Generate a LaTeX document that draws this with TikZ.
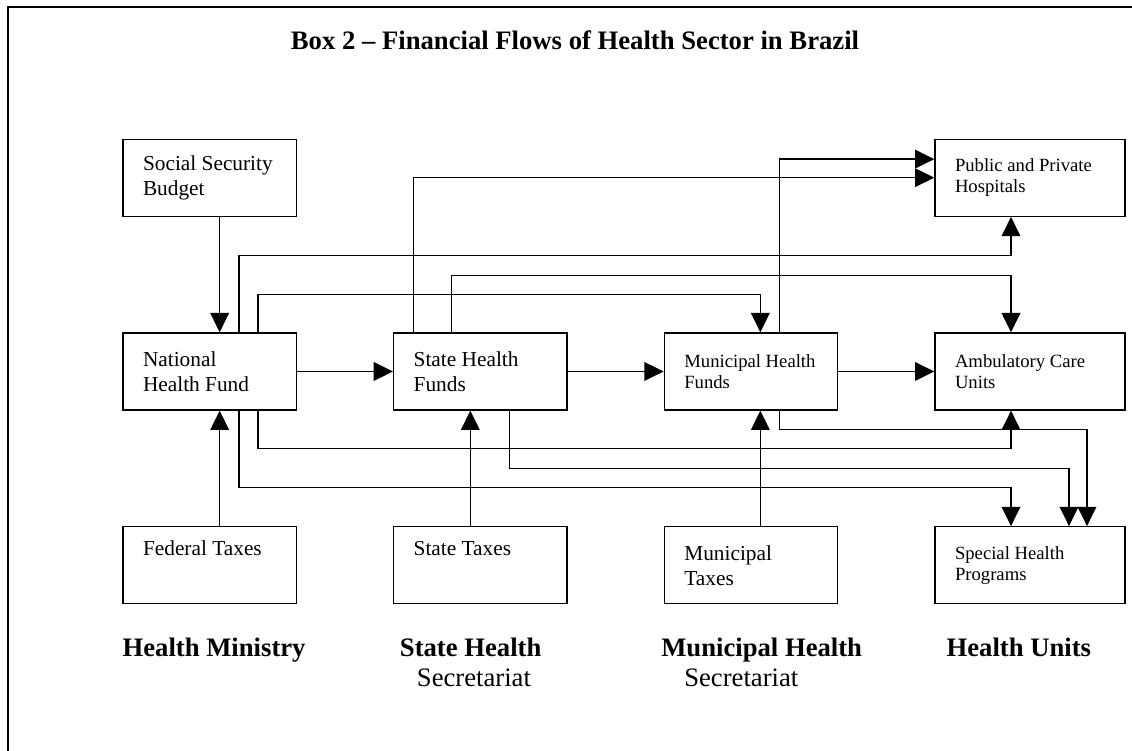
\documentclass[tikz,border=0pt]{standalone}
\usepackage{fontspec}
\setmainfont{Liberation Serif}
\usetikzlibrary{arrows.meta,positioning}

\begin{document}
\begin{tikzpicture}[>={Triangle[length=14.5pt,width=14pt]}, node distance=86.6pt and 72pt,
  every node/.style={font=\fontsize{16pt}{18.75pt}\selectfont},
  fund/.style={draw, line width=1pt, align=flush left, inner xsep=15pt, inner ysep=2pt, text width=100pt, minimum height=57.75pt},
  unit/.style={fund, text width=112.5pt},
  smalltext/.style={font=\fontsize{14pt}{15.75pt}\selectfont},
  oneline/.style={text height=11pt, text depth=25.25pt},
  flow/.style={->, line width=1pt},
  level/.style={align=left, inner sep=0pt, anchor=base west, font=\fontsize{20pt}{22.5pt}\selectfont}]
\useasboundingbox (0,0) rectangle (849pt,-562.5pt);
\draw[line width=1.1pt] (6pt,-5.25pt) rectangle (880pt,-600pt);
\node[font=\fontsize{20pt}{24pt}\selectfont\bfseries, anchor=base] (title) at (431.25pt,-36.75pt) {Box 2 -- Financial Flows of Health Sector in Brazil};
% funds row
\node[fund] (national) at (157.25pt,-278.6pt) {National\\Health Fund};
\node[fund, right=of national] (state) {State Health\\Funds};
\node[fund, smalltext, right=of state] (municipal) {Municipal Health\\Funds};
\node[unit, smalltext, right=of municipal] (ambulatory) {Ambulatory Care\\Units};
% sources and units
\node[fund, above=of national] (ssb) {Social Security\\Budget};
\node[unit, smalltext, above=of ambulatory] (hospitals) {Public and Private\\Hospitals};
\node[fund, oneline, below=of national] (federal) {Federal Taxes};
\node[fund, oneline, below=of state] (statetax) {State Taxes};
\node[fund, below=of municipal] (muntax) {Municipal\\Taxes};
\node[unit, smalltext, below=of ambulatory] (special) {Special Health\\Programs};
% level labels
\node[level] (ministry) at ([yshift=-39pt]federal.south west) {\textbf{Health Ministry}};
\node[level] (statesec) at ([xshift=5pt,yshift=-61.5pt]statetax.south west) {\textbf{State Health}\\\hspace*{12.75pt}Secretariat};
\node[level] (munsec) at ([xshift=-2pt,yshift=-61.5pt]muntax.south west) {\textbf{Municipal Health}\\\hspace*{17.25pt}Secretariat};
\node[level] (units) at ([xshift=9pt,yshift=-39pt]special.south west) {\textbf{Health Units}};
% straight flows
\draw[flow] ([xshift=7.5pt]ssb.south) -- ([xshift=7.5pt]national.north);
\draw[flow] ([xshift=7.5pt]federal.north) -- ([xshift=7.5pt]national.south);
\draw[flow] ([xshift=-7.5pt]statetax.north) -- ([xshift=-7.5pt]state.south);
\draw[flow] ([xshift=7pt]muntax.north) -- ([xshift=7pt]municipal.south);
\draw[flow] (national) -- (state);
\draw[flow] (state) -- (municipal);
\draw[flow] (municipal) -- (ambulatory);
% flows above the funds
\draw[flow] ([xshift=22pt]national.north) -- ++(0,57.75pt) -| ([xshift=-14.25pt]hospitals.south);
\draw[flow] ([xshift=36.2pt]national.north) -- ++(0,28.5pt) -| ([xshift=7pt]municipal.north);
\draw[flow] ([xshift=-50.2pt]state.north) |- (hospitals.west);
\draw[flow] ([xshift=-21.7pt]state.north) -- ++(0,42.75pt) -| ([xshift=-14.25pt]ambulatory.north);
\draw[flow] ([xshift=21.6pt]municipal.north) |- ([yshift=13.9pt]hospitals.west);
% flows below the funds
\draw[flow] ([xshift=36.2pt]national.south) -- ++(0,-28.5pt) -| ([xshift=-14.25pt]ambulatory.south);
\draw[flow] ([xshift=22pt]national.south) -- ++(0,-57.75pt) -| ([xshift=-14.25pt]special.north);
\draw[flow] ([xshift=21.8pt]state.south) -- ++(0,-43.5pt) -| ([xshift=29.25pt]special.north);
\draw[flow] ([xshift=21.6pt]municipal.south) -- ++(0,-14.25pt) -| ([xshift=42.75pt]special.north);
\end{tikzpicture}
\end{document}
